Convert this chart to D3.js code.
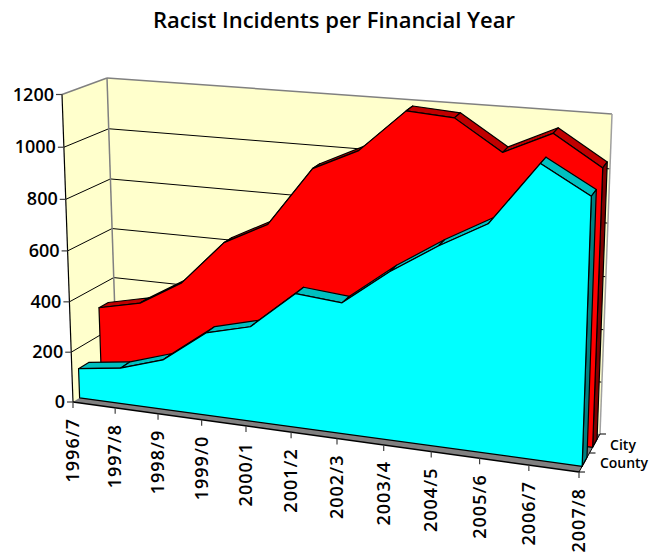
<!DOCTYPE html>
<html><head><meta charset="utf-8">
<script src="https://cdn.jsdelivr.net/npm/d3@7"></script>
<style>html,body{margin:0;padding:0;background:#fff}svg{display:block}
text{font-family:"Comic Sans MS","Open Sans",sans-serif;font-weight:600;fill:#000}</style>
</head><body><svg id="c" width="651" height="554"></svg>
<script>
const categories=["1996/7","1997/8","1998/9","1999/0","2000/1","2001/2","2002/3","2003/4","2004/5","2005/6","2006/7","2007/8"];
const cityValues=[312,350,450,627,715,945,1028,1190,1178,1066,1150,1040];
const countyValues=[118,142,197,325,370,518,503,640,755,855,1090,990];
const valueTicks=[0,200,400,600,800,1000,1200];
const depthNames=["County","City"];

const svg=d3.select("#c");
const xs=d3.scaleLinear().domain([0,categories.length-1]).range([0,1]);
const ys=d3.scaleLinear().domain([0,1200]).range([0,1]);
const warp=k=>t=>t/(k-(k-1)*t);
const wx=warp(1.1), wy=warp(1.035);
const C={FLB:[73,402],FLT:[62,94.5],FRB:[579,472],FRT:[590,141],
         BLB:[117,374],BLT:[107,78],BRB:[600,434],BRT:[612,114]};
const mix=(a,b,t)=>[a[0]+(b[0]-a[0])*t,a[1]+(b[1]-a[1])*t];
function P(i,v,z){
  const u=wx(xs(i)), w=wy(ys(v));
  const fb=mix(C.FLB,C.FRB,u), ft=mix(C.FLT,C.FRT,u), bb=mix(C.BLB,C.BRB,u), bt=mix(C.BLT,C.BRT,u);
  return mix(mix(fb,ft,w),mix(bb,bt,w),z);
}
const line=d3.line();
const poly=(pts,fill,stroke,sw)=>svg.append("path").attr("d",line(pts)+"Z").attr("fill",fill)
  .attr("stroke",stroke||"none").attr("stroke-width",sw||1).attr("stroke-linejoin","round");
const seg=(a,b,col,sw)=>svg.append("path").attr("d",line([a,b])).attr("fill","none").attr("stroke",col).attr("stroke-width",sw||1);
const N=categories.length-1;

poly([C.FLB,C.BLB,C.BLT,C.FLT],"#ffffcc");
poly([C.BLB,C.BRB,C.BRT,C.BLT],"#ffffcc");
valueTicks.forEach(v=>{
  if(v>0&&v<1200){seg(P(0,v,0),P(0,v,1),"#000");seg(P(0,v,1),P(N,v,1),"#000");}
});
seg(C.BLT,C.BRT,"#808080",1.5);seg(C.FLT,C.BLT,"#808080",1.5);
seg(C.BLB,C.BLT,"#808080",1.5);seg(C.BRB,C.BRT,"#a0a0a0",1.5);
poly([C.FLB,C.FRB,C.BRB,C.BLB],"#808080");
seg(C.FLB,C.FLT,"#000",1.2);
seg(C.FLB,C.FRB,"#000",1.5);

function drawArea(vals,z0,z1,front,top,side){
  for(let i=0;i<N;i++) poly([P(i,vals[i],z0),P(i+1,vals[i+1],z0),P(i+1,vals[i+1],z1),P(i,vals[i],z1)],top,"#000",1.2);
  poly([P(N,0,z0),P(N,vals[N],z0),P(N,vals[N],z1),P(N,0,z1)],side,"#000",1.2);
  const pts=vals.map((v,i)=>P(i,v,z0));
  poly([P(0,0,z0),...pts,P(N,0,z0)],front,"#000",1.2);
}
drawArea(cityValues,0.65,0.86,"#ff0000","#c00000","#800000");
drawArea(countyValues,0.15,0.38,"#00ffff","#00c0c0","#008080");

valueTicks.forEach(v=>{
  const p=P(0,v,0);
  seg([p[0]-6,p[1]],p,"#404040",1.2);
  svg.append("text").attr("x",p[0]-8).attr("y",p[1]+6).attr("text-anchor","end").attr("font-size",18).text(v);
});
categories.forEach((c,i)=>{
  const p=P(i,0,0);
  seg(p,[p[0],p[1]+6],"#404040",1.2);
  svg.append("text").attr("transform",`translate(${p[0]+6},${p[1]+16}) rotate(-90)`)
    .attr("text-anchor","end").attr("font-size",18).attr("letter-spacing",1).text(c);
});
seg(C.FRB,C.BRB,"#000",1);
[0,0.5,1].forEach(t=>{const p=mix(C.FRB,C.BRB,t);seg(p,[p[0]+6,p[1]],"#000",1);});
svg.append("text").attr("x",623).attr("y",450).attr("text-anchor","middle").attr("font-size",14).text(depthNames[1]);
svg.append("text").attr("x",624).attr("y",468).attr("text-anchor","middle").attr("font-size",14).text(depthNames[0]);
svg.append("text").attr("x",334).attr("y",28).attr("text-anchor","middle").attr("font-size",22).attr("font-weight",700).text("Racist Incidents per Financial Year");
</script></body></html>
